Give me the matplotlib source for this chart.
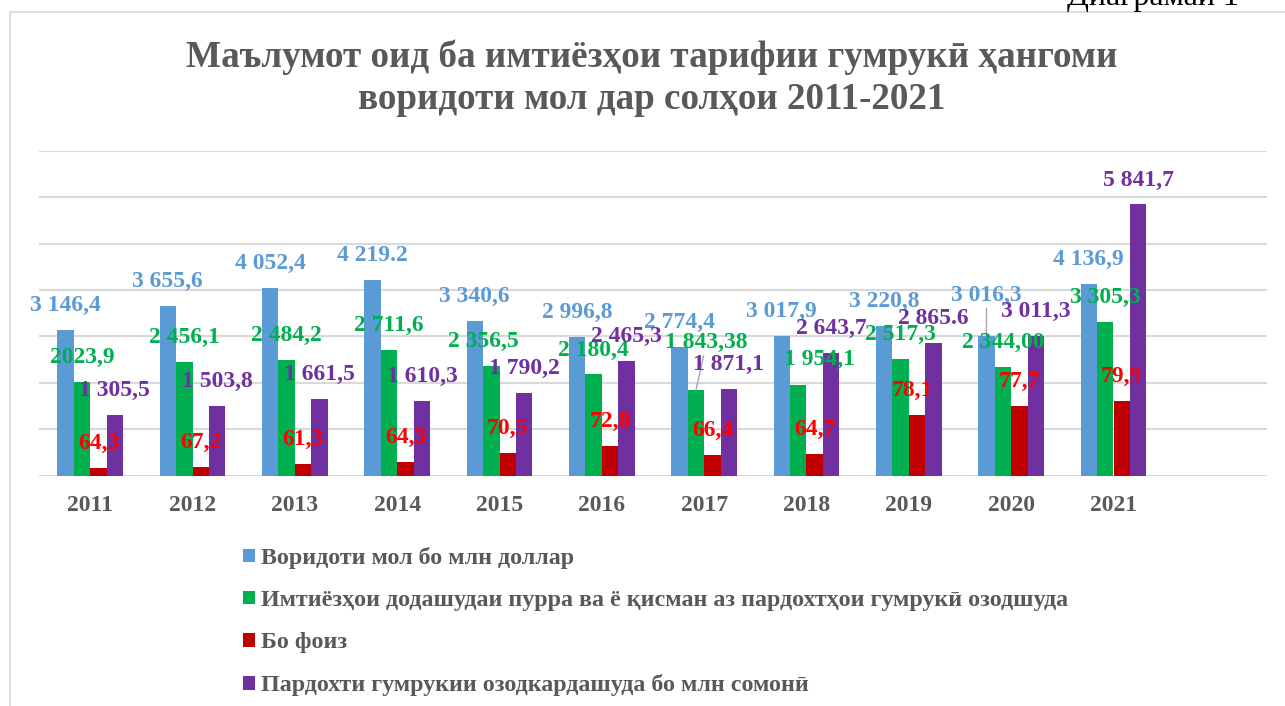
import matplotlib.pyplot as plt
from matplotlib.patches import Rectangle
import numpy as np

plt.rcParams['font.family'] = ['Liberation Serif', 'DejaVu Serif']

# -----------------------------
# DATA
# -----------------------------
years = ['2011', '2012', '2013', '2014', '2015', '2016', '2017', '2018', '2019', '2020', '2021']

imports_usd = [3146.4, 3655.6, 4052.4, 4219.2, 3340.6, 2996.8, 2774.4, 3017.9, 3220.8, 3016.3, 4136.9]
exemptions = [2023.9, 2456.1, 2484.2, 2711.6, 2356.5, 2180.4, 1843.38, 1954.1, 2517.3, 2344.00, 3305.3]
percent_bars = [160, 194, 252, 295, 496, 647, 453, 474, 1302, 1502, 1603]   # heights as drawn
waived_tjs = [1305.5, 1503.8, 1661.5, 1610.3, 1790.2, 2465.3, 1871.1, 2643.7, 2865.6, 3011.3, 5841.7]

imports_labels = ['3 146,4', '3 655,6', '4 052,4', '4 219.2', '3 340,6', '2 996,8',
                  '2 774,4', '3 017,9', '3 220,8', '3 016,3', '4 136,9']
exemptions_labels = ['2023,9', '2 456,1', '2 484,2', '2 711,6', '2 356,5', '2 180,4',
                     '1 843,38', '1 954,1', '2 517,3', '2 344,00', '3 305,3']
percent_labels = ['64,3', '67,2', '61,3', '64,3', '70,5', '72,8', '66,4', '64,7', '78,1', '77,7', '79,9']
waived_labels = ['1 305,5', '1 503,8', '1 661,5', '1 610,3', '1 790,2', '2 465,3',
                 '1 871,1', '2 643,7', '2 865.6', '3 011,3', '5 841,7']

series_names = [
    'Воридоти мол бо млн доллар',
    'Имтиёзҳои додашудаи пурра ва ё қисман аз пардохтҳои гумрукӣ озодшуда',
    'Бо фоиз',
    'Пардохти гумрукии озодкардашуда бо млн сомонӣ',
]

title_lines = ['Маълумот оид ба имтиёзҳои тарифии гумрукӣ ҳангоми',
               'воридоти мол дар солҳои 2011-2021']

# -----------------------------
# STYLE
# -----------------------------
bar_colors = ['#5B9BD5', '#00B050', '#C00000', '#7030A0']
label_colors = ['#5B9BD5', '#00B050', '#FF0000', '#7030A0']
gray = '#595959'
grid_gray = '#D9D9D9'
px = 0.72  # pixels -> points at dpi 100

fig = plt.figure(figsize=(12.85, 7.06), dpi=100)
ax = fig.add_axes([39 / 1285, 230.3 / 706, 1228 / 1285, 325 / 706])

x = np.arange(len(years))
w = 0.161
series = [imports_usd, exemptions, percent_bars, waived_tjs]
labels = [imports_labels, exemptions_labels, percent_labels, waived_labels]

bars = []
for k, (vals, col) in enumerate(zip(series, bar_colors)):
    b = ax.bar(x + (k - 1.5) * w, vals, width=w, color=col, zorder=2, label=series_names[k])
    bars.append(b)

# label offsets (px) that differ from the default "outside end" place
moved = {
    (0, 9): (0, -40.7),
    (1, 4): (-8, -24.5),
    (1, 6): (10.7, -47.8),
    (1, 7): (21.4, -26),
    (2, 8): (-5, -24.5),
}
leaders = [(0, 9), (1, 6)]

for k in range(4):
    for i, rect in enumerate(bars[k]):
        cx = rect.get_x() + rect.get_width() / 2
        top = rect.get_height()
        dx, dy = moved.get((k, i), (0, -24.5))
        kw = {}
        if (k, i) in leaders:
            kw['arrowprops'] = dict(arrowstyle='-', color='#A6A6A6', lw=1, shrinkA=0, shrinkB=0)
        ax.annotate(labels[k][i], (cx, top), xytext=(dx * px, -dy * px),
                    textcoords='offset points', ha='center', va='center',
                    fontsize=17, fontweight='bold', color=label_colors[k], zorder=3, **kw)

# -----------------------------
# AXES
# -----------------------------
ax.set_xlim(-0.5, 11.5)
ax.set_ylim(0, 7000)
ax.set_yticks(np.arange(0, 7001, 1000))
ax.yaxis.grid(True, color=grid_gray, lw=1.5, zorder=0)
ax.set_axisbelow(True)
ax.tick_params(axis='y', left=False, labelleft=False)
ax.set_xticks(x)
ax.set_xticklabels(years, fontsize=17, fontweight='bold', color=gray)
ax.tick_params(axis='x', length=0, pad=14)
for s in ax.spines.values():
    s.set_visible(False)

# -----------------------------
# TITLE, LEGEND, FRAME
# -----------------------------
fig.text(652 / 1285, 1 - 66.7 / 706, title_lines[0], ha='center', va='baseline',
         fontsize=26.7, fontweight='bold', color=gray)
fig.text(652 / 1285, 1 - 109.3 / 706, title_lines[1], ha='center', va='baseline',
         fontsize=26.7, fontweight='bold', color=gray)

fig.text(1066.7 / 1285, 1 - 5 / 706, 'Диаграмаи 1', ha='left', va='baseline',
         fontsize=23, color='black')

fig.legend(handles=bars, labels=series_names, loc='upper left',
           bbox_to_anchor=(243.3 / 1285, 1 - 547 / 706), frameon=False,
           prop={'size': 17.3, 'weight': 'bold'}, labelcolor=gray,
           handlelength=0.49, handleheight=0.49, handletextpad=0.24,
           labelspacing=0.88, borderpad=0, borderaxespad=0)

fig.patches.append(Rectangle((10 / 1285, -0.05), 1.1, 1.05 - 12 / 706, transform=fig.transFigure,
                             facecolor='none', edgecolor=grid_gray, lw=1.2, zorder=0))

fig.savefig('out.png', dpi=100)
